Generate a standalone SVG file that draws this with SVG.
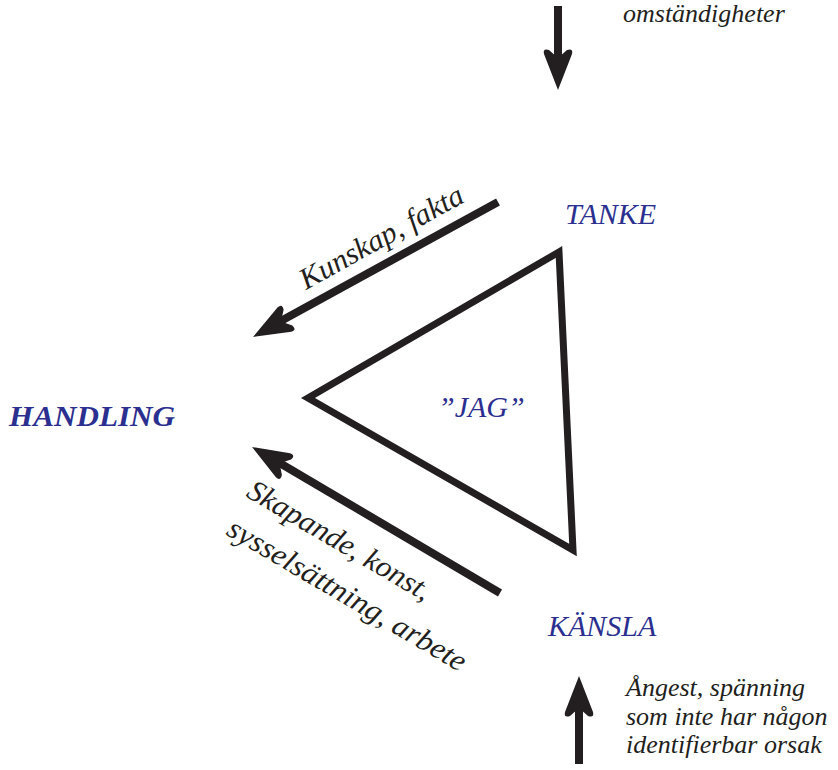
<svg xmlns="http://www.w3.org/2000/svg" width="838" height="770" viewBox="0 0 838 770">
<defs>
<style>
.lbl{font-family:"Liberation Serif","DejaVu Serif",serif;font-style:italic;fill:#2b2f8f;font-size:30px}
.note{font-family:"Liberation Serif","DejaVu Serif",serif;font-style:italic;fill:#231f20;font-size:26px}
.rot{font-family:"Liberation Serif","DejaVu Serif",serif;font-style:italic;fill:#231f20;font-size:30px}
.shaft{stroke:#231f20;stroke-width:8;fill:none;stroke-linecap:butt}
.head{fill:#231f20}
</style>
<path id="ah" d="M0,0 L14,36 Q15.5,42 9,40 L0,32 L-9,40 Q-15.5,42 -14,36 Z"/>
</defs>
<rect width="838" height="770" fill="#ffffff"/>
<g id="connectors">
<line class="shaft" x1="558" y1="6" x2="558" y2="62"/>
<use href="#ah" class="head" transform="translate(558,90) rotate(180)"/>
<line class="shaft" x1="579" y1="764" x2="579" y2="705"/>
<use href="#ah" class="head" transform="translate(579,676)"/>
<line class="shaft" x1="498" y1="202" x2="279" y2="322"/>
<use href="#ah" class="head" transform="translate(253,337) rotate(-119)"/>
<line class="shaft" x1="500" y1="593" x2="278" y2="462"/>
<use href="#ah" class="head" transform="translate(252,447) rotate(-59.5)"/>
</g>
<g id="jag">
<polygon points="559,252 308,398 573,550" fill="none" stroke="#231f20" stroke-width="7" stroke-linejoin="miter"/>
<text class="lbl" x="438" y="417" font-size="29">”JAG”</text>
</g>
<g id="tanke"><text class="lbl" x="565" y="224">TANKE</text></g>
<g id="kansla"><text class="lbl" x="548" y="636">KÄNSLA</text></g>
<g id="handling"><text class="lbl" x="9" y="426" font-weight="bold" textLength="166" lengthAdjust="spacingAndGlyphs">HANDLING</text></g>
<g id="omstandigheter"><text class="note" x="623" y="22">omständigheter</text></g>
<g id="angest">
<text class="note" x="626" y="696">Ångest, spänning</text>
<text class="note" x="626" y="725">som inte har någon</text>
<text class="note" x="626" y="753">identifierbar orsak</text>
</g>
<g id="kunskap"><text class="rot" transform="translate(306,290) rotate(-29)" textLength="183" lengthAdjust="spacingAndGlyphs">Kunskap, fakta</text></g>
<g id="skapande">
<text class="rot" transform="translate(245,496) rotate(30.5)" textLength="208" lengthAdjust="spacingAndGlyphs">Skapande, konst,</text>
<text class="rot" transform="translate(225,534) rotate(30.5)" textLength="272" lengthAdjust="spacingAndGlyphs">sysselsättning, arbete</text>
</g>
</svg>
